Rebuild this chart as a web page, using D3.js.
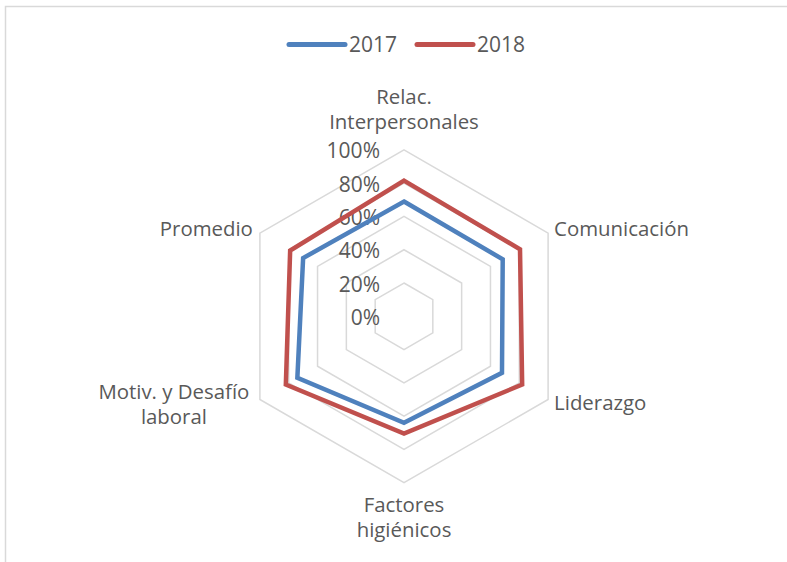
<!DOCTYPE html>
<html>
<head>
<meta charset="utf-8">
<script src="https://cdn.jsdelivr.net/npm/d3@7"></script>
<style>
  html, body { margin: 0; padding: 0; background: #fff; }
  svg { display: block; }
  text { font-family: "Open Sans", sans-serif; fill: #595959; }
</style>
</head>
<body>
<svg id="chart" width="787" height="562"></svg>
<script>
// ---- data ----
const categories = [
  ["Relac.", "Interpersonales"],
  ["Comunicación"],
  ["Liderazgo"],
  ["Factores", "higiénicos"],
  ["Motiv. y Desafío", "laboral"],
  ["Promedio"]
];
const seriesNames = ["2017", "2018"];
const values2017 = [0.69, 0.685, 0.68, 0.64, 0.74, 0.70];
const values2018 = [0.815, 0.805, 0.82, 0.705, 0.82, 0.79];
const tickValues = [0, 0.2, 0.4, 0.6, 0.8, 1.0];
const tickLabels = ["0%", "20%", "40%", "60%", "80%", "100%"];
const colors = ["#4F81BD", "#C0504D"];

// ---- layout ----
const W = 787, H = 562;
const cx = 404, cy = 316.3, R = 166.4;
const svg = d3.select("#chart");

// chart frame
svg.append("rect")
  .attr("x", 5.5).attr("y", 6.5)
  .attr("width", W + 10).attr("height", H + 10)
  .attr("fill", "none").attr("stroke", "#D9D9D9").attr("stroke-width", 1.5);

const r = d3.scaleLinear().domain([0, 1]).range([0, R]);
const n = categories.length;
const angle = d3.scaleLinear().domain([0, n]).range([0, 2 * Math.PI]);
const px = (i, v) => cx + r(v) * Math.sin(angle(i));
const py = (i, v) => cy - r(v) * Math.cos(angle(i));

const g = svg.append("g");

// grid rings
const ringLine = d3.line().x(d => d[0]).y(d => d[1]).curve(d3.curveLinearClosed);
tickValues.filter(t => t > 0).forEach(t => {
  const pts = d3.range(n).map(i => [px(i, t), py(i, t)]);
  g.append("path").attr("d", ringLine(pts))
    .attr("fill", "none").attr("stroke", "#D9D9D9").attr("stroke-width", 1.5);
});

// tick labels
g.selectAll("text.tick").data(tickValues).enter().append("text")
  .attr("class", "tick")
  .attr("x", cx - 24)
  .attr("y", d => cy - r(d) + 8.5)
  .attr("text-anchor", "end")
  .attr("font-size", 21)
  .text((d, i) => tickLabels[i]);

// series
const seriesData = [values2017, values2018];
seriesData.forEach((vals, s) => {
  const pts = vals.map((v, i) => [px(i, v), py(i, v)]);
  g.append("path").attr("d", ringLine(pts))
    .attr("fill", "none").attr("stroke", colors[s])
    .attr("stroke-width", 4.5).attr("stroke-linejoin", "miter");
});

// category labels
const lh = 25;
const fs = 20.4;
const labelPos = [
  { dx: 0, dy: -45.5, anchor: "middle" },   // top
  { dx: 6, dy: 3, anchor: "start" },        // upper right
  { dx: 6, dy: 10.5, anchor: "start" },     // lower right
  { dx: 0, dy: 29.5, anchor: "middle" },    // bottom
  { dx: -86, dy: -0.5, anchor: "middle" },  // lower left
  { dx: -7, dy: 2.5, anchor: "end" }        // upper left
];
categories.forEach((lines, i) => {
  const p = labelPos[i];
  lines.forEach((ln, k) => {
    g.append("text")
      .attr("x", px(i, 1) + p.dx)
      .attr("y", py(i, 1) + p.dy + k * lh)
      .attr("text-anchor", p.anchor)
      .attr("font-size", fs)
      .text(ln);
  });
});

// legend
const legend = svg.append("g");
const legX = [289, 417];
seriesNames.forEach((name, s) => {
  legend.append("line")
    .attr("x1", legX[s]).attr("x2", legX[s] + 56)
    .attr("y1", 44.5).attr("y2", 44.5)
    .attr("stroke", colors[s]).attr("stroke-width", 5)
    .attr("stroke-linecap", "round");
  legend.append("text")
    .attr("x", legX[s] + 60).attr("y", 52.3)
    .attr("font-size", 21)
    .text(name);
});
</script>
</body>
</html>
